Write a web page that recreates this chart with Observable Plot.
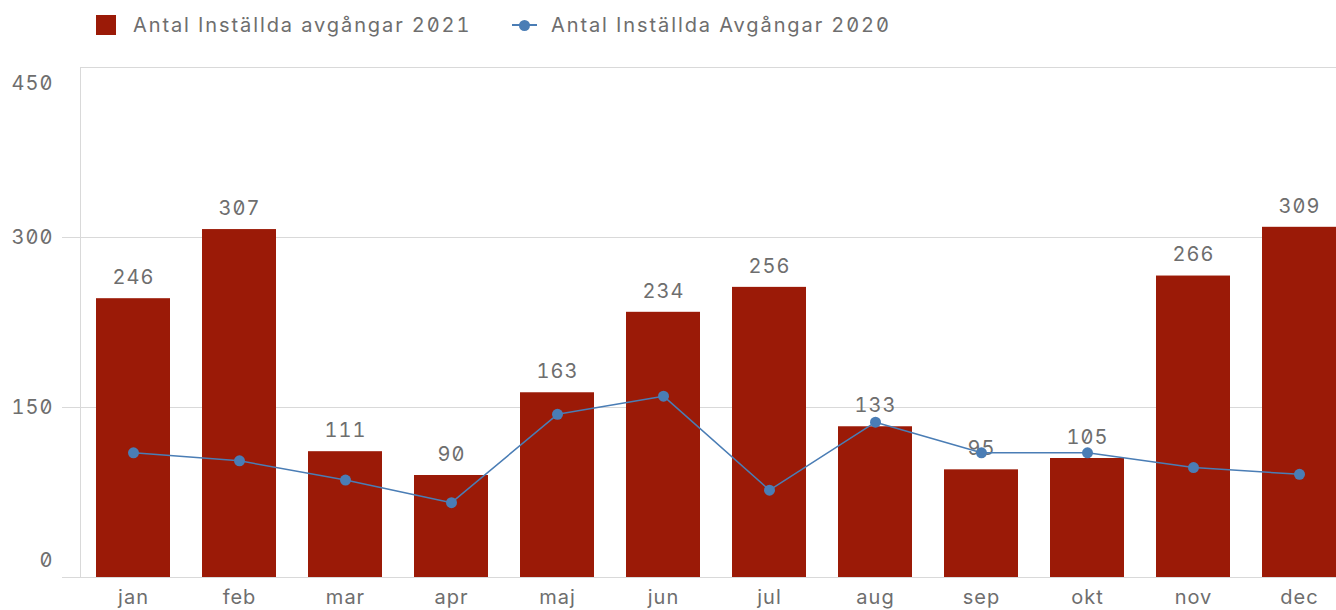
<!DOCTYPE html>
<html>
<head>
<meta charset="utf-8">
<script src="https://cdn.jsdelivr.net/npm/d3@7"></script>
<script src="https://cdn.jsdelivr.net/npm/@observablehq/plot@0.6"></script>
<style>
  html, body { margin: 0; padding: 0; background: #fff; overflow: hidden; width: 1336px; height: 610px; }
  body { font-family: Inter, "Noto Sans", sans-serif; font-feature-settings: "zero" 1, "tnum" 1; color: #6e6e6e; }
  #legend { position: relative; height: 50px; font-size: 20px; letter-spacing: 1.9px; }
  .item { position: absolute; top: 0; height: 50px; display: flex; align-items: center; }
  .sw { width: 20px; height: 20px; background: #9b1a07; margin-right: 17px; }
  .ln { position: relative; width: 25px; height: 20px; margin-right: 14px; }
  .ln::before { content: ""; position: absolute; left: 0; right: 0; top: 9px; height: 2px; background: #4a7db5; }
  .ln::after { content: ""; position: absolute; left: 7px; top: 5px; width: 11px; height: 11px; border-radius: 50%; background: #4a7db5; }
  #chart { width: 1352px; }
  #chart svg { display: block; max-width: none !important; width: 1352px !important; height: 560px !important; font-family: Inter, "Noto Sans", sans-serif; font-feature-settings: "zero" 1, "tnum" 1; letter-spacing: 1px; }
</style>
</head>
<body>
<div id="legend">
  <div class="item" style="left:96px"><div class="sw"></div><span>Antal Inställda avgångar 2021</span></div>
  <div class="item" style="left:512px"><div class="ln"></div><span>Antal Inställda Avgångar 2020</span></div>
</div>
<div id="chart"></div>
<script>
const months = ["jan","feb","mar","apr","maj","jun","jul","aug","sep","okt","nov","dec"];
const values2021 = [246, 307, 111, 90, 163, 234, 256, 133, 95, 105, 266, 309];
const values2020 = [110, 103, 86, 66, 144, 160, 77, 137, 110, 110, 97, 91];
const yTicks = [0, 150, 300, 450];

const rows = months.map((m, i) => ({month: m, v21: values2021[i], v20: values2020[i]}));
const textColor = "#6e6e6e";
const gridColor = "#d9d9d9";
const fs = 20;

const chart = Plot.plot({
  width: 1352,
  height: 560,
  marginTop: 17,
  marginBottom: 33,
  marginLeft: 80,
  marginRight: 0,
  style: {fontSize: fs + "px", color: textColor, background: "#fff", overflow: "visible"},
  x: {domain: months, paddingInner: 0.3, paddingOuter: 0.15, label: null},
  y: {domain: [0, 450], label: null},
  marks: [
    Plot.gridY(yTicks.slice(1, 3), {stroke: gridColor, strokeOpacity: 1}),
    Plot.axisY(yTicks.slice(0, 3), {tickSize: 18, stroke: gridColor, strokeOpacity: 1, tickFormat: () => "", label: null}),
    Plot.frame({anchor: "top", stroke: gridColor}),
    Plot.frame({anchor: "left", stroke: gridColor}),
    Plot.frame({anchor: "bottom", stroke: gridColor}),
    Plot.text(yTicks.slice(1, 3), {x: null, y: d => d, frameAnchor: "left", dx: -27, textAnchor: "end", fill: textColor, fontSize: fs}),
    Plot.text(yTicks.slice(3), {x: null, y: d => d, frameAnchor: "left", dx: -27, dy: 16, textAnchor: "end", fill: textColor, fontSize: fs}),
    Plot.text(yTicks.slice(0, 1), {x: null, y: d => d, frameAnchor: "left", dx: -27, dy: -17, textAnchor: "end", fill: textColor, fontSize: fs}),
    Plot.barY(rows, {x: "month", y: "v21", fill: "#9b1a07"}),
    Plot.text(rows, {x: "month", y: "v21", text: d => String(d.v21), dy: -21, fill: textColor, fontSize: fs}),
    Plot.line(rows, {x: "month", y: "v20", stroke: "#4a7db5", strokeWidth: 1.5}),
    Plot.dot(rows, {x: "month", y: "v20", r: 5.5, fill: "#4a7db5"}),
    Plot.axisX({tickSize: 0, tickPadding: 12, fill: textColor, fontSize: fs, label: null})
  ]
});
document.getElementById("chart").appendChild(chart);
</script>
</body>
</html>
